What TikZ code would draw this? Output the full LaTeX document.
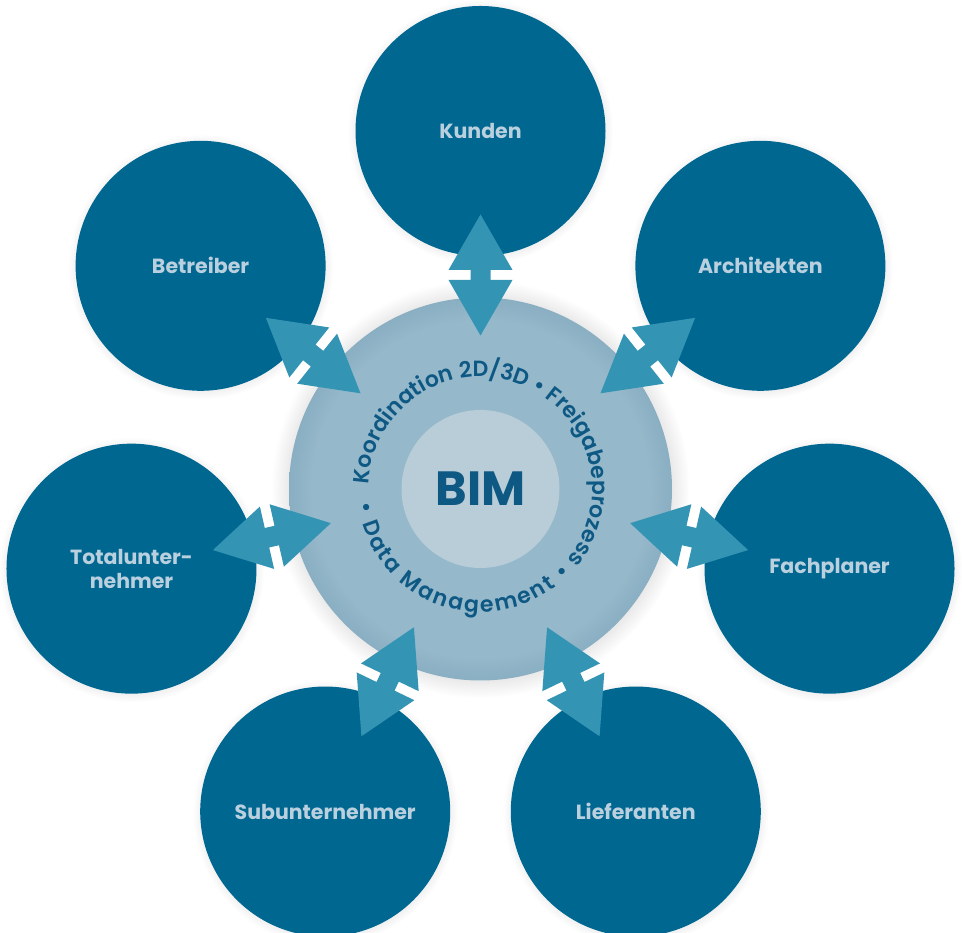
\documentclass[tikz,border=0pt]{standalone}
\usepackage{fontspec}
\setmainfont{Poppins}
\newfontfamily\ringfam{Poppins}[UprightFont=* SemiBold]
\usetikzlibrary{calc,shadows,decorations.text,fadings}

\definecolor{outerblue}{RGB}{0,103,145}
\definecolor{arrowblue}{RGB}{52,148,180}
\definecolor{hubfill}{RGB}{149,184,202}
\definecolor{hubedge}{RGB}{138,174,194}
\definecolor{corefill}{RGB}{184,205,216}
\definecolor{labeltext}{RGB}{186,208,222}
\definecolor{ringtext}{RGB}{14,88,132}

% hub disc: flat fill with a slightly darker rim
\pgfdeclareradialshading{hubrim}{\pgfpoint{0bp}{0bp}}{%
  color(0bp)=(hubfill); color(22bp)=(hubfill); color(25bp)=(hubedge); color(50bp)=(hubedge)}

\newcommand\ringfont{\ringfam\fontsize{22}{26}\selectfont\color{ringtext}}

\begin{document}
\begin{tikzpicture}[x=1pt, y=1pt,
  partner/.style={circle, fill=outerblue, minimum size=250pt, inner sep=0pt,
    text=labeltext, font=\fontsize{20.5}{24}\selectfont\bfseries, align=center,
    circular drop shadow={shadow xshift=0pt, shadow yshift=-1pt, shadow scale=1.06, opacity=.25}},
  hubdisc/.style={circle, minimum size=383pt, inner sep=0pt, shading=hubrim,
    circular drop shadow={shadow xshift=0pt, shadow yshift=0pt, shadow scale=1.09, opacity=.3}},
  coredisc/.style={circle, fill=corefill, minimum size=158pt, inner sep=0pt,
    text=ringtext, font=\fontsize{48}{48}\selectfont\bfseries},
  link/.style={fill=arrowblue}]

\useasboundingbox (0,0) rectangle (962,933);
\clip (0,0) rectangle (962,933);
\coordinate (c) at (480.5,444);

% central hub and core
\node[hubdisc] (hub) at (c) {};
\node[coredisc] (core) at (c) {BIM};

% partners around the hub
\foreach \n/\a/\t in {kunden/90/Kunden, architekten/38.57/Architekten,
    fachplaner/-12.86/Fachplaner, lieferanten/-64.29/Lieferanten,
    subunternehmer/-115.71/Subunternehmer, totalunternehmer/192.86/{Totalunter-\\nehmer},
    betreiber/141.43/Betreiber}
  \node[partner] (\n) at ($(c)+(\a:358)$) {\t};

% double arrows between hub and partners
\foreach \n/\a in {kunden/90, architekten/38.57, fachplaner/-12.86, lieferanten/-64.29,
    subunternehmer/-115.71, totalunternehmer/192.86, betreiber/141.43}
  \fill[link, shift={($(hub.center)!214pt!(\n.center)$)}, rotate=\a]
    (-60.5,0) -- (-5,32) -- (-5,10) -- (5,10) -- (5,32) -- (60.5,0)
    -- (5,-32) -- (5,-10) -- (-5,-10) -- (-5,-32) -- cycle;

% text running round the core: upper part centred at 69 degrees
\path[decorate, decoration={text along path, text align=center,
    text={|\ringfont|Koordination 2D/3D • Freigabeprozess}}]
  ($(c)+(219:112)$) arc[start angle=219, end angle=-81, radius=112];
% lower part spread between its two bullets
\path[decorate, decoration={text along path, text align=fit to path,
    text={|\ringfont|• Data Management •}}]
  ($(c)+(187:123)$) arc[start angle=187, end angle=317, radius=123];
\end{tikzpicture}
\end{document}
